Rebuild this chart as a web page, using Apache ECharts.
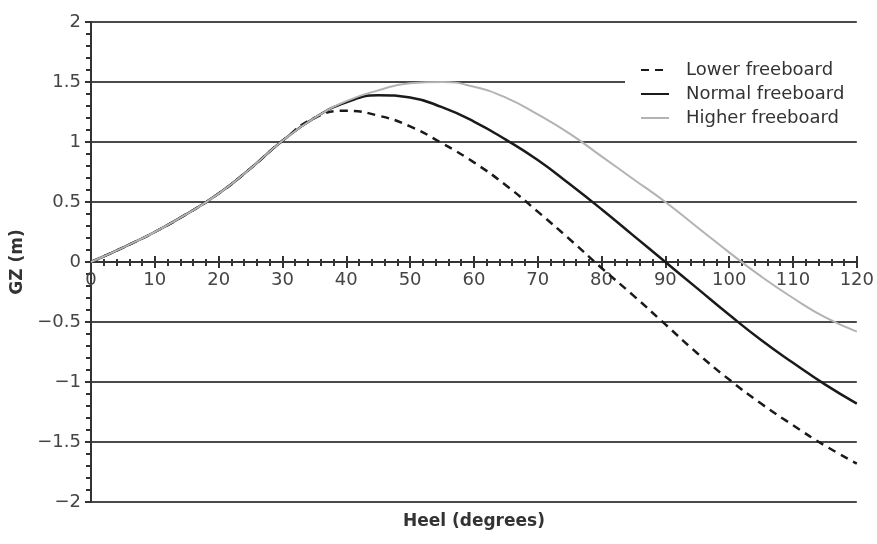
<!DOCTYPE html>
<html>
<head>
<meta charset="utf-8">
<script src="https://cdn.jsdelivr.net/npm/echarts@6/dist/echarts.min.js"></script>
<style>html,body{margin:0;padding:0;background:#fff}#c{width:877px;height:544px}</style>
</head>
<body>
<div id="c"></div>
<script>
const heel = [0,5,10,15,20,25,30,35,40,45,50,55,60,65,70,75,80,85,90,95,100,105,110,115,120];
const lowerFreeboard = [0,0.12,0.25,0.40,0.57,0.78,1.01,1.20,1.26,1.22,1.13,0.99,0.83,0.64,0.42,0.19,-0.05,-0.28,-0.52,-0.76,-0.98,-1.18,-1.36,-1.53,-1.68];
const normalFreeboard = [0,0.12,0.25,0.40,0.57,0.78,1.01,1.20,1.33,1.39,1.37,1.29,1.17,1.02,0.85,0.65,0.44,0.22,0.0,-0.22,-0.44,-0.65,-0.84,-1.02,-1.18];
const higherFreeboard = [0,0.12,0.25,0.40,0.57,0.78,1.01,1.20,1.34,1.43,1.49,1.50,1.46,1.37,1.23,1.07,0.88,0.69,0.50,0.29,0.08,-0.12,-0.30,-0.46,-0.58];
const seriesNames = ['Lower freeboard','Normal freeboard','Higher freeboard'];

const pair = arr => heel.map((h,i)=>[h,arr[i]]);
const font = 'DejaVu Sans, Liberation Sans, sans-serif';
const fs = 18;
const chart = echarts.init(document.getElementById('c'));
chart.setOption({
  animation:false,
  backgroundColor:'#fff',
  grid:{left:91,right:17,top:22,bottom:42,containLabel:false},
  legend:{
    orient:'vertical', left:625, top:57,
    padding:[4,20,4,15],
    backgroundColor:'#fff',
    itemWidth:28, itemHeight:14, itemGap:6,
    itemStyle:{opacity:0},
    textStyle:{fontFamily:font,fontSize:fs,color:'#333',padding:[0,0,0,12]},
    data:seriesNames
  },
  xAxis:[{
    type:'value', min:0, max:120, interval:10, position:'bottom', offset:-240,
    axisLine:{onZero:false,lineStyle:{color:'#333',width:2}},
    axisTick:{show:true,length:6,lineStyle:{color:'#333',width:2}},
    minorTick:{show:true,splitNumber:5,length:4,lineStyle:{color:'#333',width:2}},
    axisLabel:{fontFamily:font,fontSize:fs,color:'#444',margin:9},
    splitLine:{show:false}
  },{
    type:'value', min:0, max:120, interval:10, position:'bottom', offset:-240,
    axisLine:{show:false,onZero:false},
    axisTick:{show:true,inside:true,length:6,lineStyle:{color:'#333',width:2}},
    minorTick:{show:true,splitNumber:5,length:3,lineStyle:{color:'#333',width:2}},
    axisLabel:{show:false}, splitLine:{show:false}
  },{
    type:'value', min:0, max:120, position:'bottom',
    axisLine:{show:false,onZero:false}, axisTick:{show:false}, axisLabel:{show:false}, splitLine:{show:false},
    name:'Heel (degrees)', nameLocation:'middle', nameGap:11,
    nameTextStyle:{fontFamily:font,fontSize:17,fontWeight:'bold',color:'#333'}
  }],
  yAxis:{
    type:'value', min:-2, max:2, interval:0.5,
    name:'GZ (m)', nameLocation:'middle', nameGap:62,
    nameTextStyle:{fontFamily:font,fontSize:17,fontWeight:'bold',color:'#333'},
    axisLine:{show:true,onZero:false,lineStyle:{color:'#333',width:2}},
    axisTick:{show:true,length:6,lineStyle:{color:'#333',width:2}},
    minorTick:{show:true,splitNumber:5,length:5,lineStyle:{color:'#333',width:2}},
    axisLabel:{fontFamily:font,fontSize:fs,color:'#444',margin:10,
      formatter:v=>String(v).replace('-','\u2212')},
    splitLine:{show:true,lineStyle:{color:'#4a4a4a',width:2}}
  },
  series:[
    {name:seriesNames[0],type:'line',data:pair(lowerFreeboard),smooth:0.5,showSymbol:false,symbol:'none',
      lineStyle:{color:'#1a1a1a',width:2.5,type:[8,6]},itemStyle:{color:'#1a1a1a'},z:2},
    {name:seriesNames[1],type:'line',data:pair(normalFreeboard),smooth:0.5,showSymbol:false,symbol:'none',
      lineStyle:{color:'#1a1a1a',width:2.5},itemStyle:{color:'#1a1a1a'},z:3},
    {name:seriesNames[2],type:'line',data:pair(higherFreeboard),smooth:0.5,showSymbol:false,symbol:'none',
      lineStyle:{color:'#b3b3b3',width:2},itemStyle:{color:'#b3b3b3'},z:4}
  ]
});
</script>
</body>
</html>
